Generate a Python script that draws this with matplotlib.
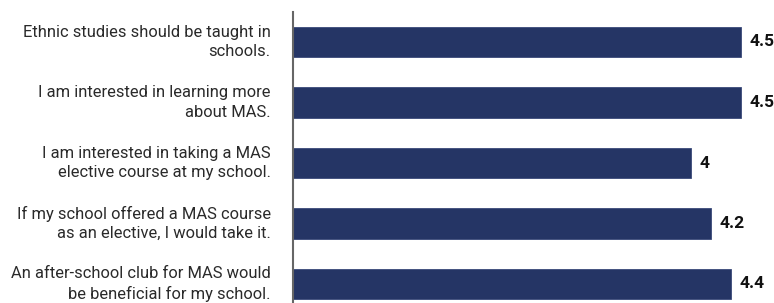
import matplotlib.pyplot as plt

plt.rcParams['font.family'] = ['Roboto', 'DejaVu Sans']

statements = [
    "Ethnic studies should be taught in\nschools.",
    "I am interested in learning more\nabout MAS.",
    "I am interested in taking a MAS\nelective course at my school.",
    "If my school offered a MAS course\nas an elective, I would take it.",
    "An after-school club for MAS would\nbe beneficial for my school.",
]
scores = [4.5, 4.5, 4, 4.2, 4.4]
score_labels = ["4.5", "4.5", "4", "4.2", "4.4"]

W, H = 774, 303
fig = plt.figure(figsize=(W / 100, H / 100), dpi=100)
# axes placed in pixels: x=0 at 293 px, ~99.5 px per unit; rows 60.5 px apart
x0, xmax = 293, 4.8
top_px = 11.7
ax = fig.add_axes([x0 / W, 0, xmax * 99.5 / W, (H - top_px) / H])

ypos = list(range(len(scores)))
ax.barh(ypos, scores, height=0.5, color='#253565', edgecolor='#3a4a7a', linewidth=0.6)
ax.set_xlim(0, xmax)
ax.set_ylim(4 + 19 / 60.5, -(42 - top_px) / 60.5)
ax.set_yticks(ypos)
ax.set_yticklabels(statements, fontsize=11.9, color='#2a2a2a', ha='right',
                   va='center', linespacing=1.38)
ax.tick_params(axis='y', length=0, pad=16)
ax.set_xticks([])
for side in ['top', 'right', 'bottom']:
    ax.spines[side].set_visible(False)
ax.spines['left'].set_color('#666666')
ax.spines['left'].set_linewidth(1.5)

for y, v, lab in zip(ypos, scores, score_labels):
    ax.text(v + 0.09, y, lab, va='center', ha='left', fontsize=12.5,
            fontweight='bold', color='#111111')

fig.savefig('out.png', dpi=100)
